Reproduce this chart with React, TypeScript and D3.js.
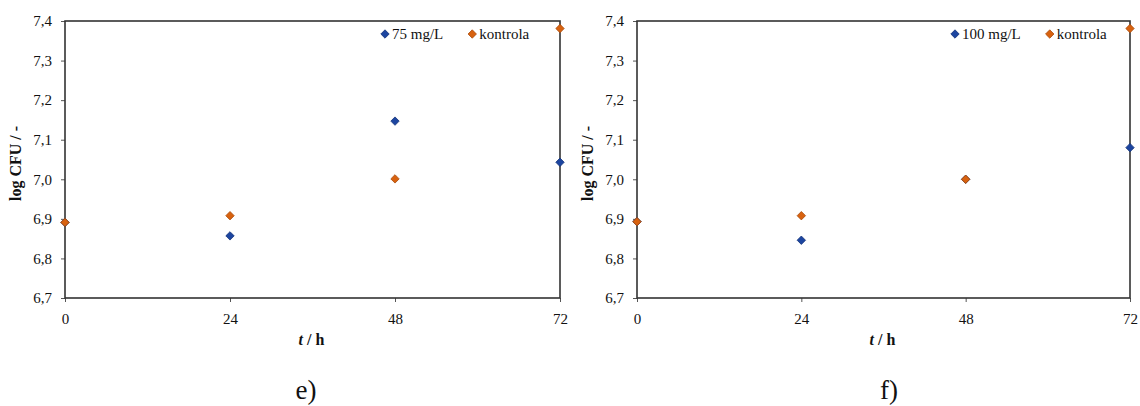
import React, { useRef, useEffect } from 'react';
import * as d3 from 'd3';

// time points (h)
const hours = [0, 24, 48, 72];
const yTicks = [6.7, 6.8, 6.9, 7.0, 7.1, 7.2, 7.3, 7.4];

// log CFU values
const treated75 = [6.891, 6.857, 7.147, 7.043];
const treated100 = [6.893, 6.846, 7.0, 7.08];
const kontrolaE = [6.891, 6.908, 7.001, 7.381];
const kontrolaF = [6.893, 6.908, 7.0, 7.381];

const BLUE = '#1c45a0';
const BLUE_DARK = '#143478';
const ORANGE = '#d8620f';
const ORANGE_DARK = '#a84a0a';

const panels = [
  { label: 'e)', series: '75 mg/L', treated: treated75, kontrola: kontrolaE, left: 65, right: 560, labelX: 306 },
  { label: 'f)', series: '100 mg/L', treated: treated100, kontrola: kontrolaF, left: 637, right: 1130, labelX: 889 },
];

const WIDTH = 1140;
const HEIGHT = 406;
const TOP = 21;
const BOTTOM = 298;
const FONT = '"Liberation Serif", "Times New Roman", serif';

function diamond(g, x, y, fill, stroke) {
  g.append('path')
    .attr('d', `M${x},${y - 4.2}L${x + 4.2},${y}L${x},${y + 4.2}L${x - 4.2},${y}Z`)
    .attr('fill', fill)
    .attr('stroke', stroke)
    .attr('stroke-width', 0.8);
}

function Charts() {
  const ref = useRef(null);

  useEffect(() => {
    const svg = d3.select(ref.current);
    svg.selectAll('*').remove();

    const y = d3.scaleLinear().domain([6.7, 7.4]).range([BOTTOM, TOP]);
    const fmt = (d) => d.toFixed(1).replace('.', ',');

    panels.forEach((p) => {
      const x = d3.scaleLinear().domain([0, 72]).range([p.left, p.right]);
      const g = svg.append('g');

      const yAxis = g
        .append('g')
        .attr('transform', `translate(${p.left},0)`)
        .call(d3.axisLeft(y).tickValues(yTicks).tickFormat(fmt).tickSize(4).tickPadding(9).tickSizeOuter(0));
      const xAxis = g
        .append('g')
        .attr('transform', `translate(0,${BOTTOM})`)
        .call(d3.axisBottom(x).tickValues(hours).tickFormat(d3.format('d')).tickSize(4).tickPadding(11).tickSizeOuter(0));
      [yAxis, xAxis].forEach((a) => {
        a.select('.domain').remove();
        a.selectAll('line').attr('stroke', '#555').attr('stroke-width', 1);
        a.selectAll('text').attr('font-family', FONT).attr('font-size', 15).attr('fill', '#111');
      });

      // plot frame
      g.append('rect')
        .attr('x', p.left)
        .attr('y', TOP)
        .attr('width', p.right - p.left)
        .attr('height', BOTTOM - TOP)
        .attr('fill', 'none')
        .attr('stroke', '#333')
        .attr('stroke-width', 1.6);

      // points
      const pts = g.append('g');
      p.treated.forEach((v, i) => diamond(pts, x(hours[i]), y(v), BLUE, BLUE_DARK));
      p.kontrola.forEach((v, i) => diamond(pts, x(hours[i]), y(v), ORANGE, ORANGE_DARK));

      // legend
      const leg = g.append('g').attr('font-family', FONT).attr('font-size', 15).attr('fill', '#111');
      let lx = p.right - 175;
      const ly = 34;
      [
        { name: p.series, fill: BLUE, stroke: BLUE_DARK },
        { name: 'kontrola', fill: ORANGE, stroke: ORANGE_DARK },
      ].forEach((item) => {
        diamond(leg, lx, ly, item.fill, item.stroke);
        const t = leg
          .append('text')
          .attr('x', lx + 7)
          .attr('y', ly + 5)
          .text(item.name);
        const w = t.node().getComputedTextLength();
        lx = lx + 7 + w + 29;
      });

      // axis titles
      const cx = (p.left + p.right) / 2;
      const xt = g
        .append('text')
        .attr('x', cx - 1)
        .attr('y', 345)
        .attr('text-anchor', 'middle')
        .attr('font-family', FONT)
        .attr('font-size', 16)
        .attr('font-weight', 'bold')
        .attr('fill', '#111');
      xt.append('tspan').attr('font-style', 'italic').text('t');
      xt.append('tspan').text(' / h');

      g.append('text')
        .attr('transform', `translate(${p.left - 44},${(TOP + BOTTOM) / 2 + 4}) rotate(-90)`)
        .attr('text-anchor', 'middle')
        .attr('font-family', FONT)
        .attr('font-size', 16)
        .attr('font-weight', 'bold')
        .attr('fill', '#111')
        .text('log CFU / -');

      g.append('text')
        .attr('x', p.labelX)
        .attr('y', 399)
        .attr('text-anchor', 'middle')
        .attr('font-family', FONT)
        .attr('font-size', 27)
        .attr('fill', '#111')
        .text(p.label);
    });
  }, []);

  return (
    <svg
      ref={ref}
      width={WIDTH}
      height={HEIGHT}
      style={{ position: 'fixed', left: 0, top: 0, background: '#fff' }}
    ></svg>
  );
}

export default function App() {
  return <Charts />;
}
